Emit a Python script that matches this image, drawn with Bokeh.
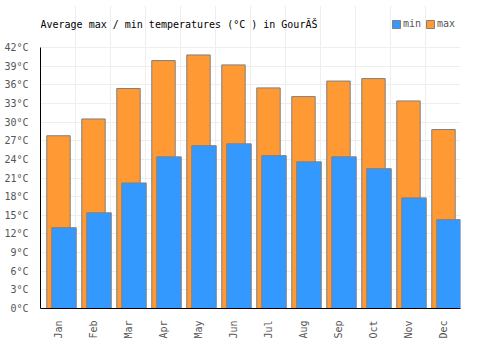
import numpy as np
from bokeh.plotting import figure
from bokeh.models import Range1d, FixedTicker, PrintfTickFormatter, Legend, LegendItem, Label
from bokeh.embed import file_html
from bokeh.resources import INLINE

months = ["Jan", "Feb", "Mar", "Apr", "May", "Jun", "Jul", "Aug", "Sep", "Oct", "Nov", "Dec"]
t_min = [13.0, 15.4, 20.2, 24.4, 26.2, 26.5, 24.6, 23.6, 24.4, 22.5, 17.8, 14.3]
t_max = [27.8, 30.5, 35.4, 39.9, 40.8, 39.2, 35.5, 34.1, 36.6, 37.0, 33.4, 28.8]
y_ticks = list(range(0, 43, 3))
title_text = "Average max / min temperatures (°C ) in GourĂŠ"

FONT = "DejaVu Sans Mono"
idx = np.arange(len(months))

# frame spans from px 5 to 308; value axis tops out at 42 (px 47), extra head-room holds title/legend
TOP = 5
BOTTOM = 42
px_per_unit = 261 / 42.0
y_end = 42 + (47 - TOP) / px_per_unit

p = figure(width=500, height=350, output_backend="svg", toolbar_location=None,
           x_range=Range1d(0, 12), y_range=Range1d(0, y_end),
           min_border_left=40, min_border_right=40, min_border_top=TOP, min_border_bottom=BOTTOM)

r_max = p.vbar(x=idx + 0.514, width=0.67, bottom=0, top=t_max,
               fill_color="#FF9933", line_color="#808080", line_width=1)
r_min = p.vbar(x=idx + 0.671, width=0.70, bottom=0, top=t_min,
               fill_color="#3399FF", line_color="#808080", line_width=1)

p.outline_line_color = None

# x axis
p.xaxis.ticker = FixedTicker(ticks=list(idx + 0.5))
p.xaxis.major_label_overrides = {float(i + 0.5): m for i, m in enumerate(months)}
p.xaxis.major_label_orientation = np.pi / 2
p.xaxis.major_tick_line_color = None
p.xaxis.minor_tick_line_color = None
p.xaxis.major_label_standoff = 6
p.xaxis.axis_line_color = "#000000"

# y axis
p.yaxis.ticker = FixedTicker(ticks=y_ticks)
p.yaxis.formatter = PrintfTickFormatter(format="%d°C")
p.yaxis.major_tick_line_color = None
p.yaxis.minor_tick_line_color = None
p.yaxis.major_label_standoff = 6
p.yaxis.axis_line_color = "#000000"
p.yaxis.bounds = (0, 42)

for ax in (p.xaxis[0], p.yaxis[0]):
    ax.major_label_text_font = FONT
    ax.major_label_text_font_size = "10px"
    ax.major_label_text_color = "#555555"

p.xgrid.ticker = FixedTicker(ticks=list(range(13)))
p.ygrid.ticker = FixedTicker(ticks=y_ticks)
p.xgrid.bounds = (0, 42)
p.xgrid.grid_line_color = "#eeeeee"
p.ygrid.grid_line_color = "#eeeeee"

title = Label(x=0, y=42 + (47 - 24) / px_per_unit, text=title_text,
              text_font=FONT, text_font_size="10px", text_color="#000000",
              text_baseline="middle", text_align="left")
p.add_layout(title)

legend = Legend(items=[LegendItem(label="min", renderers=[r_min]),
                       LegendItem(label="max", renderers=[r_max])],
                orientation="horizontal", location=(351, 303 - 29 + TOP),
                glyph_width=10, glyph_height=10, label_text_font=FONT,
                label_text_font_size="10px", label_text_color="#555555",
                label_standoff=2, spacing=2, padding=0, margin=0,
                border_line_color=None, background_fill_alpha=0,
                label_height=10)
p.add_layout(legend, "center")

open("out.html", "w").write(file_html(p, INLINE))
